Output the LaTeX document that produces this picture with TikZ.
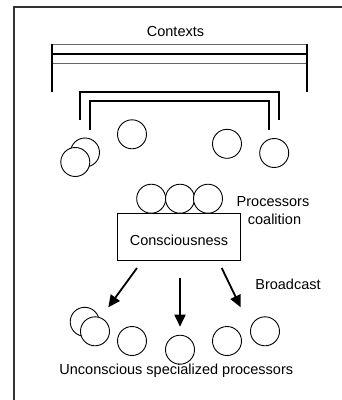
\documentclass[tikz,border=0pt]{standalone}
\usepackage{fontspec}
\setmainfont{Liberation Sans}
\usetikzlibrary{arrows.meta}
\begin{document}
\begin{tikzpicture}[x=1pt,y=-1pt,
  proc/.style={circle,draw,fill=white,line width=0.9pt,minimum size=29pt,inner sep=0pt},
  lbl/.style={font=\fontsize{14.5}{18}\selectfont,inner sep=0pt,align=center},
  thick bracket/.style={line width=1.4pt},
  thin bracket/.style={line width=0.7pt,black!60},
  bcast/.style={line width=1.8pt,-{Triangle[length=12pt,width=11pt]}}]
\useasboundingbox (0,0) rectangle (342,400);
% frame
\draw[line width=1.2pt,black!80] (14,400) -- (14,7) -- (342,7);
% contexts
\node[lbl,anchor=base] (ctx) at (175.5,36) {Contexts};
\draw[thin bracket] (52,44) -- (307,44);
\draw[thin bracket] (52,63) -- (307,63);
\draw[thick bracket] (52,54) -- (307,54);
\draw[thick bracket] (52,92) -- (52,44);
\draw[thick bracket] (307,92) -- (307,44);
\draw[thick bracket] (80,120) -- (80,92) -- (279,92) -- (279,120);
\draw[thick bracket] (90,130) -- (90,101) -- (269,101) -- (269,130);
% upper processors
\node[proc] (u1) at (85,152.5) {};
\node[proc] (u2) at (75.3,162) {};
\node[proc] (u3) at (132,134.3) {};
\node[proc] (u4) at (227,143.8) {};
\node[proc] (u5) at (274.2,153) {};
% consciousness
\node[draw,line width=0.9pt,minimum width=123pt,minimum height=47pt,inner sep=0pt] (cons) at (178.5,236.5) {};
\node[lbl,anchor=base] (constxt) at (179,245.5) {Consciousness};
\node[proc] (c1) at (151.2,198.7) {};
\node[proc] (c2) at (180,198.7) {};
\node[proc] (c3) at (208,198.7) {};
\node[lbl,anchor=base] (coal1) at (273,206.5) {Processors};
\node[lbl,anchor=base] (coal2) at (274.5,224.5) {coalition};
% broadcast
\coordinate (a1s) at (137,268);
\coordinate (a1e) at (108.3,307.3);
\coordinate (a2s) at (180,277.5);
\coordinate (a2e) at (180,326.7);
\coordinate (a3s) at (221.7,268);
\coordinate (a3e) at (240.7,307.3);
\draw[bcast] (a1s) -- (a1e);
\draw[bcast] (a2s) -- (a2e);
\draw[bcast] (a3s) -- (a3e);
\node[lbl,anchor=base] (bc) at (288,289.5) {Broadcast};
% lower processors
\node[proc] (l1) at (84.7,321.8) {};
\node[proc] (l2) at (95,331.3) {};
\node[proc] (l3) at (132,341) {};
\node[proc] (l4) at (180,349.7) {};
\node[proc] (l5) at (227,341) {};
\node[proc] (l6) at (265,331.3) {};
\node[lbl,anchor=base] (ucs) at (176.3,374.5) {Unconscious specialized processors};
\end{tikzpicture}
\end{document}
